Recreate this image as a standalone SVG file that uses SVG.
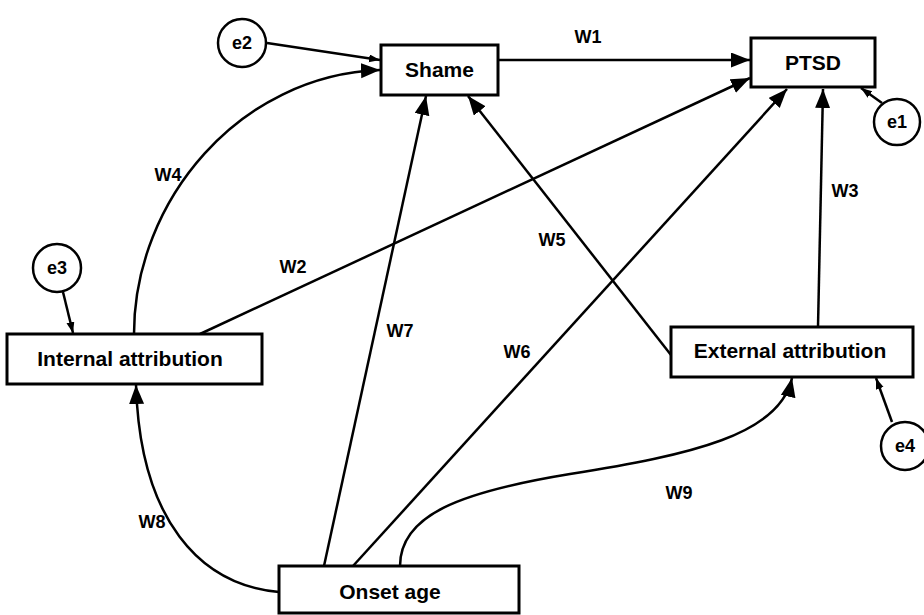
<svg xmlns="http://www.w3.org/2000/svg" width="924" height="615" viewBox="0 0 924 615">
<defs>
<marker id="big" markerUnits="userSpaceOnUse" markerWidth="20" markerHeight="16" refX="19" refY="7.5" orient="auto">
<path d="M0,0 L19,7.5 L0,15 z" fill="#000"/>
</marker>
<marker id="small" markerUnits="userSpaceOnUse" markerWidth="12" markerHeight="9" refX="11" refY="4" orient="auto">
<path d="M0,0 L11,4 L0,8 z" fill="#000"/>
</marker>
</defs>
<style>
.box{fill:#fff;stroke:#000;stroke-width:3}
.err{fill:#fff;stroke:#000;stroke-width:2.5}
.lbl{font-family:"Liberation Sans",Arial,sans-serif;font-weight:bold;font-size:21px;text-anchor:middle;fill:#000}
.w{font-family:"Liberation Sans",Arial,sans-serif;font-weight:bold;font-size:18px;text-anchor:middle;fill:#000}
.e{font-family:"Liberation Sans",Arial,sans-serif;font-weight:bold;font-size:18px;text-anchor:middle;fill:#000}
.c{fill:none;stroke:#000;stroke-width:2.5;marker-end:url(#big)}
.s{fill:none;stroke:#000;stroke-width:2.5;marker-end:url(#small)}
</style>
<rect width="924" height="615" fill="#fff"/>
<g id="connectors">
<path class="c" d="M498,60 L750,60"/>
<path class="c" d="M200,334 L750,78"/>
<path class="c" d="M818,327 L823,89"/>
<path class="c" d="M134,334 C134,200 240,75 380,70"/>
<path class="c" d="M671,355 L468,96"/>
<path class="c" d="M353,566 L787,89"/>
<path class="c" d="M324,566 L426,96"/>
<path class="c" d="M279,592 C200,585 140,520 136,385"/>
<path class="c" d="M400,566 C400,515 460,492 570,474 C690,455 780,435 792,378"/>
<path class="s" d="M267,43 L380,60"/>
<path class="s" d="M882,103 L861,88"/>
<path class="s" d="M63,292 L73,333"/>
<path class="s" d="M892,422 L876,378"/>
<text class="w" x="588" y="43">W1</text>
<text class="w" x="293" y="273">W2</text>
<text class="w" x="845" y="197">W3</text>
<text class="w" x="168" y="181">W4</text>
<text class="w" x="552" y="246">W5</text>
<text class="w" x="517" y="358">W6</text>
<text class="w" x="400" y="337">W7</text>
<text class="w" x="152" y="528">W8</text>
<text class="w" x="679" y="499">W9</text>
</g>
<g id="shame"><rect class="box" x="381" y="45" width="117" height="50"/><text class="lbl" x="439.5" y="77">Shame</text></g>
<g id="ptsd"><rect class="box" x="751" y="38" width="124" height="49"/><text class="lbl" x="813" y="70">PTSD</text></g>
<g id="internal"><rect class="box" x="7" y="334" width="255" height="50"/><text class="lbl" x="130" y="366">Internal attribution</text></g>
<g id="external"><rect class="box" x="671" y="327" width="242" height="50"/><text class="lbl" x="790" y="358">External attribution</text></g>
<g id="onset"><rect class="box" x="279" y="566" width="240" height="47"/><text class="lbl" x="390" y="599">Onset age</text></g>
<g id="e1"><circle class="err" cx="897" cy="122" r="23"/><text class="e" x="897" y="128">e1</text></g>
<g id="e2"><circle class="err" cx="242" cy="43" r="24"/><text class="e" x="242" y="49">e2</text></g>
<g id="e3"><circle class="err" cx="57" cy="268" r="24"/><text class="e" x="57" y="274">e3</text></g>
<g id="e4"><circle class="err" cx="905" cy="446" r="24"/><text class="e" x="905" y="452">e4</text></g>
</svg>
